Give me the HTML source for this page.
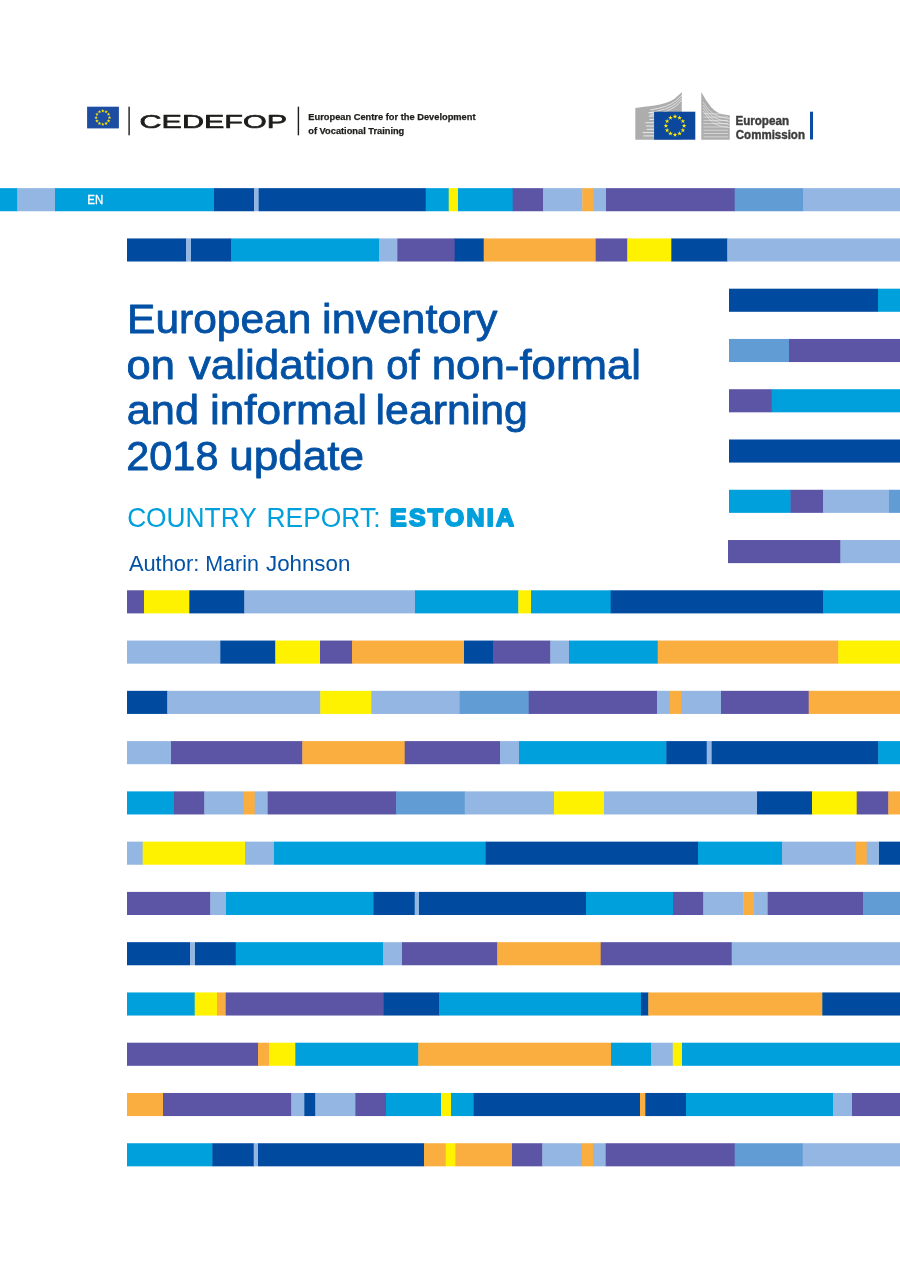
<!DOCTYPE html>
<html lang="en"><head><meta charset="utf-8"><title>European inventory on validation of non-formal and informal learning 2018 update - Estonia</title>
<style>
html,body{margin:0;padding:0;background:#fff;}
body{width:900px;height:1273px;position:relative;overflow:hidden;font-family:"Liberation Sans",sans-serif;}
#bars{position:absolute;left:0;top:0;width:900px;height:1273px;}
.abs{position:absolute;white-space:nowrap;}
.title{left:129px;top:297px;font-size:37.4px;line-height:45.77px;color:#0054A6;-webkit-text-stroke:0.55px #0054A6;letter-spacing:0px;}
.sub{left:129px;top:503px;font-size:22px;color:#00A0DC;}
.sub b{font-weight:bold;-webkit-text-stroke:0.8px #00A0DC;letter-spacing:0.6px;}
.author{left:129px;top:552px;font-size:18.5px;color:#0054A6;}
.en{left:88px;top:193px;font-size:10px;font-weight:bold;color:#fff;}

</style></head><body>
<svg id="bars" width="900" height="1273" viewBox="0 0 900 1273">
<rect x="0.0" y="188.15" width="17.7" height="23.1" fill="#00A0DC"/>
<rect x="17.3" y="188.15" width="38.1" height="23.1" fill="#93B6E2"/>
<rect x="55.0" y="188.15" width="159.4" height="23.1" fill="#00A0DC"/>
<rect x="214.0" y="188.15" width="40.4" height="23.1" fill="#004A9F"/>
<rect x="254.0" y="188.15" width="5.1" height="23.1" fill="#93B6E2"/>
<rect x="258.7" y="188.15" width="167.4" height="23.1" fill="#004A9F"/>
<rect x="425.7" y="188.15" width="23.4" height="23.1" fill="#00A0DC"/>
<rect x="448.7" y="188.15" width="9.7" height="23.1" fill="#FFF200"/>
<rect x="458.0" y="188.15" width="55.1" height="23.1" fill="#00A0DC"/>
<rect x="512.7" y="188.15" width="30.7" height="23.1" fill="#5C55A5"/>
<rect x="543.0" y="188.15" width="39.7" height="23.1" fill="#93B6E2"/>
<rect x="582.3" y="188.15" width="11.8" height="23.1" fill="#FBAE40"/>
<rect x="593.7" y="188.15" width="12.7" height="23.1" fill="#93B6E2"/>
<rect x="606.0" y="188.15" width="129.1" height="23.1" fill="#5C55A5"/>
<rect x="734.7" y="188.15" width="68.7" height="23.1" fill="#619CD4"/>
<rect x="803.0" y="188.15" width="97.4" height="23.1" fill="#93B6E2"/>
<rect x="127.0" y="238.42" width="59.4" height="23.1" fill="#004A9F"/>
<rect x="186.0" y="238.42" width="5.4" height="23.1" fill="#93B6E2"/>
<rect x="191.0" y="238.42" width="40.4" height="23.1" fill="#004A9F"/>
<rect x="231.0" y="238.42" width="148.4" height="23.1" fill="#00A0DC"/>
<rect x="379.0" y="238.42" width="18.7" height="23.1" fill="#93B6E2"/>
<rect x="397.3" y="238.42" width="57.8" height="23.1" fill="#5C55A5"/>
<rect x="454.7" y="238.42" width="29.4" height="23.1" fill="#004A9F"/>
<rect x="483.7" y="238.42" width="112.4" height="23.1" fill="#FBAE40"/>
<rect x="595.7" y="238.42" width="32.0" height="23.1" fill="#5C55A5"/>
<rect x="627.3" y="238.42" width="44.4" height="23.1" fill="#FFF200"/>
<rect x="671.3" y="238.42" width="56.4" height="23.1" fill="#004A9F"/>
<rect x="727.3" y="238.42" width="173.1" height="23.1" fill="#93B6E2"/>
<rect x="729.0" y="288.69" width="149.4" height="23.1" fill="#004A9F"/>
<rect x="878.0" y="288.69" width="22.4" height="23.1" fill="#00A0DC"/>
<rect x="729.0" y="338.95" width="60.4" height="23.1" fill="#619CD4"/>
<rect x="789.0" y="338.95" width="111.4" height="23.1" fill="#5C55A5"/>
<rect x="729.0" y="389.22" width="43.0" height="23.1" fill="#5C55A5"/>
<rect x="771.6" y="389.22" width="128.8" height="23.1" fill="#00A0DC"/>
<rect x="729.0" y="439.49" width="171.4" height="23.1" fill="#004A9F"/>
<rect x="729.0" y="489.76" width="61.9" height="23.1" fill="#00A0DC"/>
<rect x="790.5" y="489.76" width="32.9" height="23.1" fill="#5C55A5"/>
<rect x="823.0" y="489.76" width="66.4" height="23.1" fill="#93B6E2"/>
<rect x="889.0" y="489.76" width="11.4" height="23.1" fill="#619CD4"/>
<rect x="728.0" y="540.03" width="112.8" height="23.1" fill="#5C55A5"/>
<rect x="840.4" y="540.03" width="60.0" height="23.1" fill="#93B6E2"/>
<rect x="127.0" y="590.29" width="17.4" height="23.1" fill="#5C55A5"/>
<rect x="144.0" y="590.29" width="45.7" height="23.1" fill="#FFF200"/>
<rect x="189.3" y="590.29" width="55.4" height="23.1" fill="#004A9F"/>
<rect x="244.3" y="590.29" width="171.1" height="23.1" fill="#93B6E2"/>
<rect x="415.0" y="590.29" width="103.7" height="23.1" fill="#00A0DC"/>
<rect x="518.3" y="590.29" width="13.1" height="23.1" fill="#FFF200"/>
<rect x="531.0" y="590.29" width="80.1" height="23.1" fill="#00A0DC"/>
<rect x="610.7" y="590.29" width="212.7" height="23.1" fill="#004A9F"/>
<rect x="823.0" y="590.29" width="77.4" height="23.1" fill="#00A0DC"/>
<rect x="127.0" y="640.56" width="93.7" height="23.1" fill="#93B6E2"/>
<rect x="220.3" y="640.56" width="55.4" height="23.1" fill="#004A9F"/>
<rect x="275.3" y="640.56" width="45.1" height="23.1" fill="#FFF200"/>
<rect x="320.0" y="640.56" width="32.4" height="23.1" fill="#5C55A5"/>
<rect x="352.0" y="640.56" width="112.4" height="23.1" fill="#FBAE40"/>
<rect x="464.0" y="640.56" width="29.4" height="23.1" fill="#004A9F"/>
<rect x="493.0" y="640.56" width="57.7" height="23.1" fill="#5C55A5"/>
<rect x="550.3" y="640.56" width="19.1" height="23.1" fill="#93B6E2"/>
<rect x="569.0" y="640.56" width="89.1" height="23.1" fill="#00A0DC"/>
<rect x="657.7" y="640.56" width="181.0" height="23.1" fill="#FBAE40"/>
<rect x="838.3" y="640.56" width="62.1" height="23.1" fill="#FFF200"/>
<rect x="127.0" y="690.83" width="40.7" height="23.1" fill="#004A9F"/>
<rect x="167.3" y="690.83" width="153.4" height="23.1" fill="#93B6E2"/>
<rect x="320.3" y="690.83" width="51.4" height="23.1" fill="#FFF200"/>
<rect x="371.3" y="690.83" width="88.8" height="23.1" fill="#93B6E2"/>
<rect x="459.7" y="690.83" width="69.4" height="23.1" fill="#619CD4"/>
<rect x="528.7" y="690.83" width="128.7" height="23.1" fill="#5C55A5"/>
<rect x="657.0" y="690.83" width="13.2" height="23.1" fill="#93B6E2"/>
<rect x="669.8" y="690.83" width="11.6" height="23.1" fill="#FBAE40"/>
<rect x="681.0" y="690.83" width="40.4" height="23.1" fill="#93B6E2"/>
<rect x="721.0" y="690.83" width="88.1" height="23.1" fill="#5C55A5"/>
<rect x="808.7" y="690.83" width="91.7" height="23.1" fill="#FBAE40"/>
<rect x="127.0" y="741.10" width="44.4" height="23.1" fill="#93B6E2"/>
<rect x="171.0" y="741.10" width="131.7" height="23.1" fill="#5C55A5"/>
<rect x="302.3" y="741.10" width="102.8" height="23.1" fill="#FBAE40"/>
<rect x="404.7" y="741.10" width="95.7" height="23.1" fill="#5C55A5"/>
<rect x="500.0" y="741.10" width="19.4" height="23.1" fill="#93B6E2"/>
<rect x="519.0" y="741.10" width="147.7" height="23.1" fill="#00A0DC"/>
<rect x="666.3" y="741.10" width="40.8" height="23.1" fill="#004A9F"/>
<rect x="706.7" y="741.10" width="5.4" height="23.1" fill="#93B6E2"/>
<rect x="711.7" y="741.10" width="167.0" height="23.1" fill="#004A9F"/>
<rect x="878.3" y="741.10" width="22.1" height="23.1" fill="#00A0DC"/>
<rect x="127.0" y="791.37" width="47.4" height="23.1" fill="#00A0DC"/>
<rect x="174.0" y="791.37" width="30.7" height="23.1" fill="#5C55A5"/>
<rect x="204.3" y="791.37" width="39.8" height="23.1" fill="#93B6E2"/>
<rect x="243.7" y="791.37" width="11.4" height="23.1" fill="#FBAE40"/>
<rect x="254.7" y="791.37" width="13.4" height="23.1" fill="#93B6E2"/>
<rect x="267.7" y="791.37" width="128.7" height="23.1" fill="#5C55A5"/>
<rect x="396.0" y="791.37" width="69.1" height="23.1" fill="#619CD4"/>
<rect x="464.7" y="791.37" width="89.7" height="23.1" fill="#93B6E2"/>
<rect x="554.0" y="791.37" width="50.4" height="23.1" fill="#FFF200"/>
<rect x="604.0" y="791.37" width="153.4" height="23.1" fill="#93B6E2"/>
<rect x="757.0" y="791.37" width="55.4" height="23.1" fill="#004A9F"/>
<rect x="812.0" y="791.37" width="45.1" height="23.1" fill="#FFF200"/>
<rect x="856.7" y="791.37" width="32.0" height="23.1" fill="#5C55A5"/>
<rect x="888.3" y="791.37" width="12.1" height="23.1" fill="#FBAE40"/>
<rect x="127.0" y="841.63" width="16.1" height="23.1" fill="#93B6E2"/>
<rect x="142.7" y="841.63" width="102.7" height="23.1" fill="#FFF200"/>
<rect x="245.0" y="841.63" width="29.4" height="23.1" fill="#93B6E2"/>
<rect x="274.0" y="841.63" width="212.1" height="23.1" fill="#00A0DC"/>
<rect x="485.7" y="841.63" width="212.7" height="23.1" fill="#004A9F"/>
<rect x="698.0" y="841.63" width="84.4" height="23.1" fill="#00A0DC"/>
<rect x="782.0" y="841.63" width="74.1" height="23.1" fill="#93B6E2"/>
<rect x="855.7" y="841.63" width="11.4" height="23.1" fill="#FBAE40"/>
<rect x="866.7" y="841.63" width="12.7" height="23.1" fill="#93B6E2"/>
<rect x="879.0" y="841.63" width="21.4" height="23.1" fill="#004A9F"/>
<rect x="127.0" y="891.90" width="83.7" height="23.1" fill="#5C55A5"/>
<rect x="210.3" y="891.90" width="16.1" height="23.1" fill="#93B6E2"/>
<rect x="226.0" y="891.90" width="147.7" height="23.1" fill="#00A0DC"/>
<rect x="373.3" y="891.90" width="41.8" height="23.1" fill="#004A9F"/>
<rect x="414.7" y="891.90" width="4.7" height="23.1" fill="#93B6E2"/>
<rect x="419.0" y="891.90" width="167.4" height="23.1" fill="#004A9F"/>
<rect x="586.0" y="891.90" width="87.4" height="23.1" fill="#00A0DC"/>
<rect x="673.0" y="891.90" width="30.7" height="23.1" fill="#5C55A5"/>
<rect x="703.3" y="891.90" width="40.4" height="23.1" fill="#93B6E2"/>
<rect x="743.3" y="891.90" width="11.1" height="23.1" fill="#FBAE40"/>
<rect x="754.0" y="891.90" width="14.1" height="23.1" fill="#93B6E2"/>
<rect x="767.7" y="891.90" width="95.7" height="23.1" fill="#5C55A5"/>
<rect x="863.0" y="891.90" width="37.4" height="23.1" fill="#619CD4"/>
<rect x="127.0" y="942.17" width="63.4" height="23.1" fill="#004A9F"/>
<rect x="190.0" y="942.17" width="5.4" height="23.1" fill="#93B6E2"/>
<rect x="195.0" y="942.17" width="41.1" height="23.1" fill="#004A9F"/>
<rect x="235.7" y="942.17" width="147.7" height="23.1" fill="#00A0DC"/>
<rect x="383.0" y="942.17" width="19.4" height="23.1" fill="#93B6E2"/>
<rect x="402.0" y="942.17" width="95.7" height="23.1" fill="#5C55A5"/>
<rect x="497.3" y="942.17" width="103.8" height="23.1" fill="#FBAE40"/>
<rect x="600.7" y="942.17" width="131.4" height="23.1" fill="#5C55A5"/>
<rect x="731.7" y="942.17" width="168.7" height="23.1" fill="#93B6E2"/>
<rect x="127.0" y="992.44" width="68.1" height="23.1" fill="#00A0DC"/>
<rect x="194.7" y="992.44" width="22.7" height="23.1" fill="#FFF200"/>
<rect x="217.0" y="992.44" width="9.1" height="23.1" fill="#FBAE40"/>
<rect x="225.7" y="992.44" width="158.4" height="23.1" fill="#5C55A5"/>
<rect x="383.7" y="992.44" width="56.0" height="23.1" fill="#004A9F"/>
<rect x="439.3" y="992.44" width="202.1" height="23.1" fill="#00A0DC"/>
<rect x="641.0" y="992.44" width="7.7" height="23.1" fill="#004A9F"/>
<rect x="648.3" y="992.44" width="174.4" height="23.1" fill="#FBAE40"/>
<rect x="822.3" y="992.44" width="78.1" height="23.1" fill="#004A9F"/>
<rect x="127.0" y="1042.71" width="131.4" height="23.1" fill="#5C55A5"/>
<rect x="258.0" y="1042.71" width="11.4" height="23.1" fill="#FBAE40"/>
<rect x="269.0" y="1042.71" width="26.7" height="23.1" fill="#FFF200"/>
<rect x="295.3" y="1042.71" width="123.4" height="23.1" fill="#00A0DC"/>
<rect x="418.3" y="1042.71" width="193.1" height="23.1" fill="#FBAE40"/>
<rect x="611.0" y="1042.71" width="40.4" height="23.1" fill="#00A0DC"/>
<rect x="651.0" y="1042.71" width="22.2" height="23.1" fill="#93B6E2"/>
<rect x="672.8" y="1042.71" width="9.6" height="23.1" fill="#FFF200"/>
<rect x="682.0" y="1042.71" width="218.4" height="23.1" fill="#00A0DC"/>
<rect x="127.0" y="1092.97" width="36.4" height="23.1" fill="#FBAE40"/>
<rect x="163.0" y="1092.97" width="128.7" height="23.1" fill="#5C55A5"/>
<rect x="291.3" y="1092.97" width="13.4" height="23.1" fill="#93B6E2"/>
<rect x="304.3" y="1092.97" width="11.4" height="23.1" fill="#004A9F"/>
<rect x="315.3" y="1092.97" width="40.4" height="23.1" fill="#93B6E2"/>
<rect x="355.3" y="1092.97" width="31.1" height="23.1" fill="#5C55A5"/>
<rect x="386.0" y="1092.97" width="55.4" height="23.1" fill="#00A0DC"/>
<rect x="441.0" y="1092.97" width="10.4" height="23.1" fill="#FFF200"/>
<rect x="451.0" y="1092.97" width="23.1" height="23.1" fill="#00A0DC"/>
<rect x="473.7" y="1092.97" width="166.7" height="23.1" fill="#004A9F"/>
<rect x="640.0" y="1092.97" width="5.7" height="23.1" fill="#FBAE40"/>
<rect x="645.3" y="1092.97" width="41.1" height="23.1" fill="#004A9F"/>
<rect x="686.0" y="1092.97" width="147.4" height="23.1" fill="#00A0DC"/>
<rect x="833.0" y="1092.97" width="19.4" height="23.1" fill="#93B6E2"/>
<rect x="852.0" y="1092.97" width="48.4" height="23.1" fill="#5C55A5"/>
<rect x="127.0" y="1143.24" width="85.7" height="23.1" fill="#00A0DC"/>
<rect x="212.3" y="1143.24" width="41.8" height="23.1" fill="#004A9F"/>
<rect x="253.7" y="1143.24" width="4.7" height="23.1" fill="#93B6E2"/>
<rect x="258.0" y="1143.24" width="166.4" height="23.1" fill="#004A9F"/>
<rect x="424.0" y="1143.24" width="22.1" height="23.1" fill="#FBAE40"/>
<rect x="445.7" y="1143.24" width="10.0" height="23.1" fill="#FFF200"/>
<rect x="455.3" y="1143.24" width="57.1" height="23.1" fill="#FBAE40"/>
<rect x="512.0" y="1143.24" width="30.7" height="23.1" fill="#5C55A5"/>
<rect x="542.3" y="1143.24" width="40.1" height="23.1" fill="#93B6E2"/>
<rect x="582.0" y="1143.24" width="11.4" height="23.1" fill="#FBAE40"/>
<rect x="593.0" y="1143.24" width="13.1" height="23.1" fill="#93B6E2"/>
<rect x="605.7" y="1143.24" width="129.4" height="23.1" fill="#5C55A5"/>
<rect x="734.7" y="1143.24" width="68.4" height="23.1" fill="#619CD4"/>
<rect x="802.7" y="1143.24" width="97.7" height="23.1" fill="#93B6E2"/>
</svg>
<svg class="abs" style="left:0;top:0" width="900" height="180" viewBox="0 0 900 180" font-family="'Liberation Sans', sans-serif">
<rect x="87.1" y="106.7" width="31.8" height="21.7" fill="#1D4CA3"/>
<polygon points="102.80,109.00 103.23,110.31 104.61,110.31 103.49,111.12 103.92,112.44 102.80,111.63 101.68,112.44 102.11,111.12 100.99,110.31 102.37,110.31" fill="#FFEC00"/>
<polygon points="106.15,109.90 106.58,111.21 107.96,111.21 106.84,112.02 107.27,113.33 106.15,112.52 105.03,113.33 105.46,112.02 104.34,111.21 105.72,111.21" fill="#FFEC00"/>
<polygon points="108.60,112.35 109.03,113.66 110.41,113.66 109.29,114.47 109.72,115.79 108.60,114.98 107.49,115.79 107.91,114.47 106.80,113.66 108.18,113.66" fill="#FFEC00"/>
<polygon points="109.50,115.70 109.93,117.01 111.31,117.01 110.19,117.82 110.62,119.14 109.50,118.33 108.38,119.14 108.81,117.82 107.69,117.01 109.07,117.01" fill="#FFEC00"/>
<polygon points="108.60,119.05 109.03,120.36 110.41,120.36 109.29,121.17 109.72,122.49 108.60,121.68 107.49,122.49 107.91,121.17 106.80,120.36 108.18,120.36" fill="#FFEC00"/>
<polygon points="106.15,121.50 106.58,122.82 107.96,122.82 106.84,123.63 107.27,124.94 106.15,124.13 105.03,124.94 105.46,123.63 104.34,122.82 105.72,122.82" fill="#FFEC00"/>
<polygon points="102.80,122.40 103.23,123.71 104.61,123.71 103.49,124.52 103.92,125.84 102.80,125.03 101.68,125.84 102.11,124.52 100.99,123.71 102.37,123.71" fill="#FFEC00"/>
<polygon points="99.45,121.50 99.88,122.82 101.26,122.82 100.14,123.63 100.57,124.94 99.45,124.13 98.33,124.94 98.76,123.63 97.64,122.82 99.02,122.82" fill="#FFEC00"/>
<polygon points="97.00,119.05 97.42,120.36 98.80,120.36 97.69,121.17 98.11,122.49 97.00,121.68 95.88,122.49 96.31,121.17 95.19,120.36 96.57,120.36" fill="#FFEC00"/>
<polygon points="96.10,115.70 96.53,117.01 97.91,117.01 96.79,117.82 97.22,119.14 96.10,118.33 94.98,119.14 95.41,117.82 94.29,117.01 95.67,117.01" fill="#FFEC00"/>
<polygon points="97.00,112.35 97.42,113.66 98.80,113.66 97.69,114.47 98.11,115.79 97.00,114.98 95.88,115.79 96.31,114.47 95.19,113.66 96.57,113.66" fill="#FFEC00"/>
<polygon points="99.45,109.90 99.88,111.21 101.26,111.21 100.14,112.02 100.57,113.33 99.45,112.52 98.33,113.33 98.76,112.02 97.64,111.21 99.02,111.21" fill="#FFEC00"/>
<rect x="128.4" y="106.7" width="1.4" height="28.6" fill="#1d1d1b"/>
<rect x="297.7" y="106.7" width="1.4" height="28.6" fill="#1d1d1b"/>
<text x="139.60" y="127.8" font-size="18.0" fill="#1d1d1b" stroke="#1d1d1b" stroke-width="0.6" stroke-linejoin="round" textLength="147.41" lengthAdjust="spacingAndGlyphs">CEDEFOP</text>
<text x="308.32" y="120.2" font-size="9.2" font-weight="bold" fill="#1d1d1b" stroke="#1d1d1b" stroke-width="0.25" stroke-linejoin="round" textLength="167.21" lengthAdjust="spacingAndGlyphs">European Centre for the Development</text>
<text x="308.32" y="134.4" font-size="9.2" font-weight="bold" fill="#1d1d1b" stroke="#1d1d1b" stroke-width="0.25" stroke-linejoin="round" textLength="95.97" lengthAdjust="spacingAndGlyphs">of Vocational Training</text>
<text x="735.40" y="124.7" font-size="12.0" font-weight="bold" fill="#3c3c3c" stroke="#3c3c3c" stroke-width="0.4" stroke-linejoin="round" textLength="53.62" lengthAdjust="spacingAndGlyphs">European</text>
<text x="735.80" y="139.0" font-size="12.0" font-weight="bold" fill="#3c3c3c" stroke="#3c3c3c" stroke-width="0.4" stroke-linejoin="round" textLength="69.12" lengthAdjust="spacingAndGlyphs">Commission</text>
<path d="M635.3 139.7 L635.3 107.9 Q650 106.6 660 104.6 Q672 102 677 96.5 Q680.5 93.5 681.8 92.0 L681.8 139.7 Z" fill="#ADADAD"/>
<path d="M701.3 139.7 L701.3 92.0 Q706 101 711 107 Q716 112.5 722 114 Q726 115 729.7 115.2 L729.7 139.7 Z" fill="#ADADAD"/>
<rect x="648.2" y="112.3" width="5.8" height="1.0" fill="#fff" opacity="0.75"/>
<rect x="703.5" y="113.3" width="24.5" height="0.9" fill="#fff" opacity="0.55"/>
<rect x="648.8" y="115.6" width="5.2" height="1.0" fill="#fff" opacity="0.75"/>
<rect x="703.5" y="116.6" width="24.5" height="0.9" fill="#fff" opacity="0.55"/>
<rect x="649.4" y="118.9" width="4.6" height="1.0" fill="#fff" opacity="0.75"/>
<rect x="703.5" y="119.9" width="24.5" height="0.9" fill="#fff" opacity="0.55"/>
<rect x="645.5" y="122.2" width="8.5" height="1.0" fill="#fff" opacity="0.75"/>
<rect x="703.5" y="123.2" width="24.5" height="0.9" fill="#fff" opacity="0.55"/>
<rect x="646.1" y="125.5" width="7.9" height="1.0" fill="#fff" opacity="0.75"/>
<rect x="703.5" y="126.5" width="24.5" height="0.9" fill="#fff" opacity="0.55"/>
<rect x="646.7" y="128.8" width="7.3" height="1.0" fill="#fff" opacity="0.75"/>
<rect x="703.5" y="129.8" width="24.5" height="0.9" fill="#fff" opacity="0.55"/>
<rect x="642.8" y="132.1" width="11.2" height="1.0" fill="#fff" opacity="0.75"/>
<rect x="703.5" y="133.1" width="24.5" height="0.9" fill="#fff" opacity="0.55"/>
<rect x="643.4" y="135.4" width="10.6" height="1.0" fill="#fff" opacity="0.75"/>
<rect x="703.5" y="136.4" width="24.5" height="0.9" fill="#fff" opacity="0.55"/>
<path d="M650 110.0 Q668 107.1 675.5 101.1 Q679 98.1 681.8 95.1" fill="none" stroke="#fff" stroke-width="0.9" opacity="0.7"/>
<path d="M650 112.6 Q668 109.7 675.5 103.7 Q679 100.7 681.8 97.7" fill="none" stroke="#fff" stroke-width="0.9" opacity="0.7"/>
<path d="M650 115.2 Q668 112.3 675.5 106.3 Q679 103.3 681.8 100.3" fill="none" stroke="#fff" stroke-width="0.9" opacity="0.7"/>
<path d="M703 102.0 Q708 110.0 714 114.5 Q721 118.0 729.7 118.6" fill="none" stroke="#fff" stroke-width="0.9" opacity="0.55"/>
<path d="M703 105.0 Q708 113.0 714 117.5 Q721 121.0 729.7 121.6" fill="none" stroke="#fff" stroke-width="0.9" opacity="0.55"/>
<path d="M703 108.0 Q708 116.0 714 120.5 Q721 124.0 729.7 124.6" fill="none" stroke="#fff" stroke-width="0.9" opacity="0.55"/>
<path d="M703 111.0 Q708 119.0 714 123.5 Q721 127.0 729.7 127.6" fill="none" stroke="#fff" stroke-width="0.9" opacity="0.55"/>
<rect x="654.1" y="111.7" width="41.2" height="28" fill="#0B479D"/>
<polygon points="675.00,114.10 675.56,115.83 677.38,115.83 675.91,116.90 676.47,118.62 675.00,117.56 673.53,118.62 674.09,116.90 672.62,115.83 674.44,115.83" fill="#FFEC00"/>
<polygon points="679.55,115.32 680.11,117.05 681.93,117.05 680.46,118.11 681.02,119.84 679.55,118.77 678.08,119.84 678.64,118.11 677.17,117.05 678.99,117.05" fill="#FFEC00"/>
<polygon points="682.88,118.65 683.44,120.38 685.26,120.38 683.79,121.45 684.35,123.17 682.88,122.11 681.41,123.17 681.97,121.45 680.50,120.38 682.32,120.38" fill="#FFEC00"/>
<polygon points="684.10,123.20 684.66,124.93 686.48,124.93 685.01,126.00 685.57,127.72 684.10,126.66 682.63,127.72 683.19,126.00 681.72,124.93 683.54,124.93" fill="#FFEC00"/>
<polygon points="682.88,127.75 683.44,129.48 685.26,129.48 683.79,130.55 684.35,132.27 682.88,131.21 681.41,132.27 681.97,130.55 680.50,129.48 682.32,129.48" fill="#FFEC00"/>
<polygon points="679.55,131.08 680.11,132.81 681.93,132.81 680.46,133.88 681.02,135.60 679.55,134.54 678.08,135.60 678.64,133.88 677.17,132.81 678.99,132.81" fill="#FFEC00"/>
<polygon points="675.00,132.30 675.56,134.03 677.38,134.03 675.91,135.10 676.47,136.82 675.00,135.76 673.53,136.82 674.09,135.10 672.62,134.03 674.44,134.03" fill="#FFEC00"/>
<polygon points="670.45,131.08 671.01,132.81 672.83,132.81 671.36,133.88 671.92,135.60 670.45,134.54 668.98,135.60 669.54,133.88 668.07,132.81 669.89,132.81" fill="#FFEC00"/>
<polygon points="667.12,127.75 667.68,129.48 669.50,129.48 668.03,130.55 668.59,132.27 667.12,131.21 665.65,132.27 666.21,130.55 664.74,129.48 666.56,129.48" fill="#FFEC00"/>
<polygon points="665.90,123.20 666.46,124.93 668.28,124.93 666.81,126.00 667.37,127.72 665.90,126.66 664.43,127.72 664.99,126.00 663.52,124.93 665.34,124.93" fill="#FFEC00"/>
<polygon points="667.12,118.65 667.68,120.38 669.50,120.38 668.03,121.45 668.59,123.17 667.12,122.11 665.65,123.17 666.21,121.45 664.74,120.38 666.56,120.38" fill="#FFEC00"/>
<polygon points="670.45,115.32 671.01,117.05 672.83,117.05 671.36,118.11 671.92,119.84 670.45,118.77 668.98,119.84 669.54,118.11 668.07,117.05 669.89,117.05" fill="#FFEC00"/>
<rect x="810" y="111.7" width="3" height="27.8" fill="#0C4DA2"/>
</svg>

<svg class="abs" style="left:0;top:0" width="900" height="1273" viewBox="0 0 900 1273" font-family="'Liberation Sans', sans-serif">
<text x="127.06" y="333.1" font-size="40.6" fill="#0351A4" stroke="#0351A4" stroke-width="0.8" stroke-linejoin="round" textLength="184.23" lengthAdjust="spacingAndGlyphs">European</text>
<text x="322.07" y="333.1" font-size="40.6" fill="#0351A4" stroke="#0351A4" stroke-width="0.8" stroke-linejoin="round" textLength="175.37" lengthAdjust="spacingAndGlyphs">inventory</text>
<text x="126.53" y="378.6" font-size="40.6" fill="#0351A4" stroke="#0351A4" stroke-width="0.8" stroke-linejoin="round" textLength="48.43" lengthAdjust="spacingAndGlyphs">on</text>
<text x="188.80" y="378.6" font-size="40.6" fill="#0351A4" stroke="#0351A4" stroke-width="0.8" stroke-linejoin="round" textLength="185.88" lengthAdjust="spacingAndGlyphs">validation</text>
<text x="386.22" y="378.6" font-size="40.6" fill="#0351A4" stroke="#0351A4" stroke-width="0.8" stroke-linejoin="round" textLength="33.27" lengthAdjust="spacingAndGlyphs">of</text>
<text x="431.74" y="378.6" font-size="40.6" fill="#0351A4" stroke="#0351A4" stroke-width="0.8" stroke-linejoin="round" textLength="209.33" lengthAdjust="spacingAndGlyphs">non-formal</text>
<text x="126.73" y="424.0" font-size="40.6" fill="#0351A4" stroke="#0351A4" stroke-width="0.8" stroke-linejoin="round" textLength="72.31" lengthAdjust="spacingAndGlyphs">and</text>
<text x="209.92" y="424.0" font-size="40.6" fill="#0351A4" stroke="#0351A4" stroke-width="0.8" stroke-linejoin="round" textLength="157.28" lengthAdjust="spacingAndGlyphs">informal</text>
<text x="375.59" y="424.0" font-size="40.6" fill="#0351A4" stroke="#0351A4" stroke-width="0.8" stroke-linejoin="round" textLength="152.32" lengthAdjust="spacingAndGlyphs">learning</text>
<text x="126.26" y="469.5" font-size="40.6" fill="#0351A4" stroke="#0351A4" stroke-width="0.8" stroke-linejoin="round" textLength="92.25" lengthAdjust="spacingAndGlyphs">2018</text>
<text x="229.33" y="469.5" font-size="40.6" fill="#0351A4" stroke="#0351A4" stroke-width="0.8" stroke-linejoin="round" textLength="134.77" lengthAdjust="spacingAndGlyphs">update</text>
<text x="127.13" y="526.5" font-size="27.2" fill="#00A0DC" textLength="129.60" lengthAdjust="spacingAndGlyphs">COUNTRY</text>
<text x="266.56" y="526.5" font-size="27.2" fill="#00A0DC" textLength="113.95" lengthAdjust="spacingAndGlyphs">REPORT:</text>
<text x="390.01" y="525.7" font-size="23.8" font-weight="bold" fill="#00A0DC" stroke="#00A0DC" stroke-width="1.9" stroke-linejoin="round" letter-spacing="2.2" textLength="126.14" lengthAdjust="spacingAndGlyphs">ESTONIA</text>
<text x="128.90" y="571.0" font-size="22.3" fill="#0351A4" textLength="70.47" lengthAdjust="spacingAndGlyphs">Author:</text>
<text x="205.24" y="571.0" font-size="22.3" fill="#0351A4" textLength="53.61" lengthAdjust="spacingAndGlyphs">Marin</text>
<text x="266.00" y="571.0" font-size="22.3" fill="#0351A4" textLength="84.30" lengthAdjust="spacingAndGlyphs">Johnson</text>
<text x="87.29" y="203.9" font-size="13.0" fill="#ffffff" stroke="#ffffff" stroke-width="0.35" stroke-linejoin="round" textLength="15.98" lengthAdjust="spacingAndGlyphs">EN</text>
</svg>

</body></html>
